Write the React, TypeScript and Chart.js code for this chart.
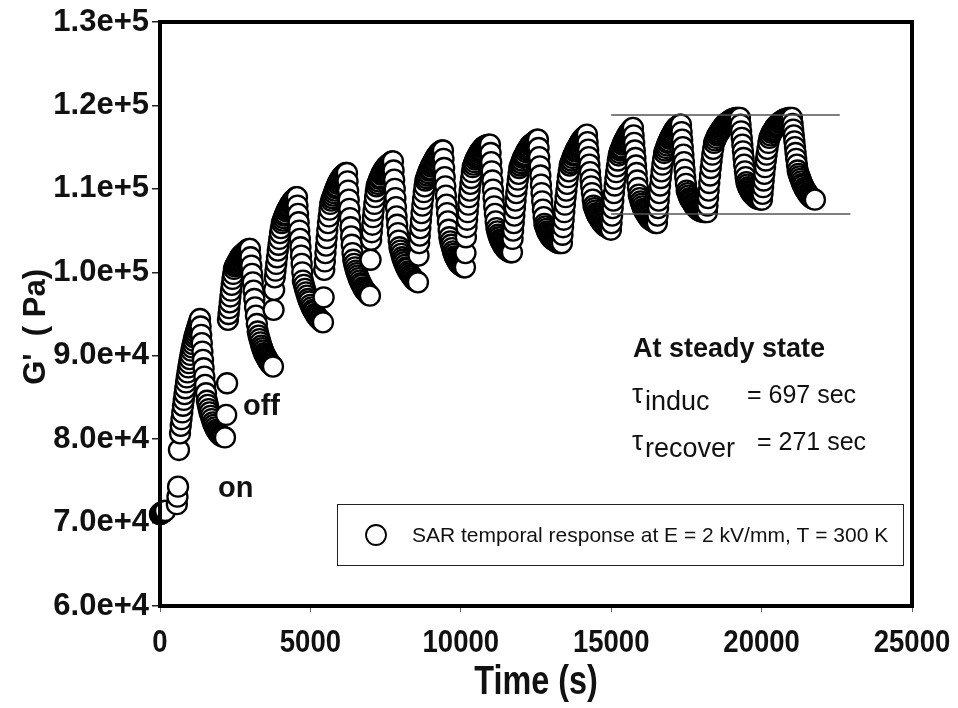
import React, { useEffect, useRef } from "react";
import { Chart, registerables } from "chart.js";

Chart.register(...registerables);

// ---- Data: [time (s), G' (kPa)] per field on/off cycle ----
const cycle01: [number, number][] = [
  [0, 71.0], [10, 71.0], [20, 71.1], [30, 71.1], [45, 71.1], [60, 71.2], [75, 71.2], [90, 71.2], [110, 71.3], [130, 71.3], [150, 71.4], [170, 71.4],
  [560, 72.2], [580, 73.1], [600, 74.3], [630, 78.7],
  [665, 80.7], [690, 81.6], [715, 82.4], [740, 83.2], [765, 84.0], [790, 84.7], [815, 85.4], [840, 86.1], [865, 86.8], [890, 87.4], [915, 88.0], [940, 88.6], [965, 89.1], [990, 89.6],
  [1015, 90.1], [1040, 90.6], [1065, 91.0], [1090, 91.4], [1115, 91.8], [1140, 92.2], [1165, 92.5], [1190, 92.8], [1215, 93.1], [1240, 93.4], [1265, 93.7], [1290, 93.9], [1310, 94.2], [1330, 94.4],
  [1350, 93.5], [1370, 92.5], [1390, 91.5], [1410, 90.5], [1430, 89.5], [1450, 88.5], [1475, 87.5], [1500, 86.5], [1530, 85.5], [1560, 84.6],
  [1590, 84.1], [1620, 83.6], [1650, 83.2], [1685, 82.8], [1720, 82.4], [1755, 82.0], [1790, 81.7], [1830, 81.4], [1870, 81.1], [1910, 80.9], [1950, 80.7], [1995, 80.5], [2040, 80.4], [2090, 80.3], [2160, 80.2],
];
const cycle02: [number, number][] = [
  [2200, 82.9], [2230, 86.7],
  [2260, 94.3], [2280, 95.0], [2300, 95.7], [2320, 96.4], [2340, 97.1], [2360, 97.8], [2385, 98.5], [2410, 99.2], [2435, 99.8], [2460, 100.4],
  [2490, 100.7], [2520, 100.9], [2550, 101.1], [2580, 101.3], [2610, 101.5], [2640, 101.7], [2670, 101.9], [2700, 102.0], [2730, 102.1], [2760, 102.2], [2790, 102.3], [2820, 102.4], [2850, 102.5], [2880, 102.6], [2910, 102.7], [2940, 102.7], [2965, 102.8], [2990, 102.8],
  [3010, 101.8], [3035, 100.8], [3060, 99.8], [3085, 98.8], [3110, 97.8], [3135, 96.8], [3160, 95.8], [3190, 94.8], [3220, 93.8], [3250, 92.9],
  [3280, 92.4], [3310, 92.0], [3340, 91.6], [3370, 91.2], [3400, 90.9], [3430, 90.6], [3460, 90.3], [3490, 90.1], [3520, 89.9], [3550, 89.7], [3580, 89.5], [3610, 89.3], [3640, 89.2], [3670, 89.0], [3700, 88.9], [3730, 88.8], [3756, 88.7],
];
const cycle03: [number, number][] = [
  [3775, 95.5], [3795, 97.9],
  [3815, 99.4], [3840, 100.2], [3865, 101.0], [3890, 101.8], [3915, 102.6], [3940, 103.3], [3965, 104.0], [3990, 104.7], [4020, 105.3], [4050, 105.9],
  [4080, 106.2], [4110, 106.5], [4140, 106.8], [4170, 107.0], [4200, 107.3], [4230, 107.5], [4260, 107.7], [4290, 107.9], [4320, 108.1], [4350, 108.3], [4380, 108.4], [4410, 108.6], [4440, 108.7], [4470, 108.8], [4500, 108.9], [4530, 109.0], [4554, 109.0],
  [4570, 108.0], [4590, 107.0], [4610, 106.0], [4630, 105.0], [4650, 104.0], [4670, 103.0], [4690, 102.0], [4710, 101.0], [4730, 100.0], [4750, 99.0],
  [4785, 98.5], [4820, 98.0], [4855, 97.6], [4890, 97.2], [4925, 96.8], [4960, 96.5], [5000, 96.1], [5040, 95.8], [5080, 95.5], [5120, 95.3], [5160, 95.0], [5200, 94.8], [5240, 94.6], [5285, 94.4], [5330, 94.3], [5375, 94.1], [5418, 94.0],
];
const cycle04: [number, number][] = [
  [5440, 97.0],
  [5460, 100.3], [5480, 101.3], [5500, 102.3], [5520, 103.2], [5540, 104.1], [5560, 105.0], [5585, 105.9], [5610, 106.7], [5635, 107.5], [5660, 108.2],
  [5690, 108.6], [5720, 108.9], [5750, 109.2], [5780, 109.5], [5810, 109.8], [5840, 110.1], [5870, 110.3], [5900, 110.6], [5930, 110.8], [5960, 111.0], [5990, 111.2], [6020, 111.3], [6050, 111.5], [6080, 111.6], [6110, 111.7], [6140, 111.8], [6180, 111.9], [6216, 111.9],
  [6235, 110.9], [6255, 109.8], [6275, 108.7], [6295, 107.6], [6315, 106.5], [6335, 105.4], [6355, 104.3], [6375, 103.3], [6400, 102.3], [6425, 101.5],
  [6455, 101.0], [6485, 100.6], [6515, 100.2], [6545, 99.9], [6575, 99.6], [6605, 99.3], [6640, 99.0], [6675, 98.7], [6710, 98.5], [6745, 98.2], [6780, 98.0], [6815, 97.8], [6850, 97.7], [6890, 97.5], [6935, 97.3], [6980, 97.2],
];
const cycle05: [number, number][] = [
  [7000, 101.5],
  [7020, 103.9], [7040, 104.8], [7060, 105.7], [7080, 106.6], [7100, 107.4], [7125, 108.2], [7150, 109.0], [7175, 109.7], [7200, 110.3],
  [7230, 110.6], [7260, 110.9], [7290, 111.2], [7320, 111.4], [7350, 111.7], [7380, 111.9], [7410, 112.1], [7440, 112.3], [7470, 112.4], [7500, 112.6], [7530, 112.7], [7560, 112.8], [7590, 112.9], [7620, 113.0], [7655, 113.1], [7690, 113.2], [7720, 113.3], [7745, 113.3],
  [7765, 112.2], [7785, 111.1], [7805, 110.0], [7825, 108.9], [7845, 107.8], [7865, 106.7], [7885, 105.7], [7910, 104.7], [7935, 103.8], [7960, 103.0],
  [7990, 102.6], [8020, 102.2], [8050, 101.8], [8080, 101.5], [8110, 101.2], [8145, 100.9], [8180, 100.6], [8215, 100.4], [8250, 100.1], [8290, 99.9], [8330, 99.7], [8370, 99.5], [8410, 99.3], [8450, 99.1], [8490, 99.0], [8535, 98.9], [8576, 98.8],
];
const cycle06: [number, number][] = [
  [8595, 102.0],
  [8615, 103.5], [8635, 104.4], [8655, 105.3], [8675, 106.2], [8695, 107.1], [8720, 108.0], [8745, 108.8], [8770, 109.6], [8795, 110.3], [8820, 111.0],
  [8850, 111.3], [8880, 111.6], [8910, 111.9], [8940, 112.2], [8970, 112.4], [9000, 112.7], [9030, 112.9], [9060, 113.1], [9090, 113.3], [9120, 113.5], [9150, 113.7], [9180, 113.9], [9210, 114.0], [9240, 114.2], [9270, 114.3], [9300, 114.4], [9335, 114.5], [9370, 114.6], [9407, 114.6],
  [9425, 113.6], [9445, 112.5], [9465, 111.4], [9485, 110.3], [9505, 109.2], [9525, 108.1], [9545, 107.1], [9570, 106.1], [9595, 105.1], [9620, 104.2],
  [9650, 103.7], [9680, 103.3], [9710, 102.9], [9740, 102.5], [9770, 102.2], [9800, 101.9], [9830, 101.7], [9860, 101.5], [9890, 101.3], [9920, 101.1], [9950, 101.0], [9985, 100.9], [10020, 100.8], [10060, 100.7], [10100, 100.6], [10138, 100.6],
];
const cycle07: [number, number][] = [
  [10155, 102.3], [10170, 104.2],
  [10190, 105.4], [10210, 106.3], [10230, 107.2], [10250, 108.1], [10270, 109.0], [10295, 109.8], [10320, 110.6], [10345, 111.3], [10370, 112.0], [10395, 112.6],
  [10425, 112.9], [10455, 113.2], [10485, 113.5], [10515, 113.7], [10545, 113.9], [10575, 114.1], [10605, 114.3], [10635, 114.5], [10665, 114.6], [10695, 114.7], [10725, 114.9], [10755, 115.0], [10785, 115.1], [10815, 115.1], [10845, 115.2], [10880, 115.2], [10925, 115.3], [10969, 115.3],
  [10990, 114.3], [11010, 113.2], [11030, 112.1], [11050, 111.0], [11070, 109.9], [11090, 108.9], [11110, 107.9], [11135, 107.0], [11160, 106.1], [11185, 105.3],
  [11215, 104.9], [11245, 104.5], [11275, 104.2], [11305, 103.9], [11335, 103.7], [11365, 103.5], [11395, 103.3], [11425, 103.1], [11455, 103.0], [11490, 102.8], [11525, 102.7], [11560, 102.6], [11600, 102.5], [11650, 102.4], [11700, 102.4],
];
const cycle08: [number, number][] = [
  [11720, 104.0],
  [11740, 105.0], [11760, 105.9], [11780, 106.8], [11800, 107.7], [11820, 108.6], [11845, 109.5], [11870, 110.3], [11895, 111.1], [11920, 111.8], [11945, 112.5],
  [11975, 112.8], [12005, 113.1], [12035, 113.4], [12065, 113.7], [12095, 113.9], [12125, 114.1], [12160, 114.4], [12195, 114.6], [12230, 114.8], [12265, 115.0], [12300, 115.2], [12335, 115.3], [12370, 115.4], [12405, 115.5], [12440, 115.6], [12475, 115.7], [12510, 115.8], [12540, 115.9], [12565, 115.9],
  [12585, 114.9], [12605, 113.8], [12625, 112.7], [12645, 111.6], [12665, 110.5], [12685, 109.5], [12705, 108.5], [12730, 107.5], [12755, 106.6], [12780, 105.8],
  [12810, 105.5], [12840, 105.2], [12870, 104.9], [12900, 104.7], [12935, 104.5], [12970, 104.3], [13005, 104.1], [13040, 104.0], [13080, 103.9], [13120, 103.8], [13160, 103.7], [13200, 103.6], [13250, 103.5], [13300, 103.5], [13362, 103.5],
];
const cycle09: [number, number][] = [
  [13380, 104.5], [13400, 105.4], [13420, 106.3], [13440, 107.2], [13460, 108.1], [13485, 109.0], [13510, 109.8], [13535, 110.6], [13560, 111.4], [13590, 112.1], [13620, 112.8],
  [13650, 113.1], [13680, 113.4], [13710, 113.7], [13740, 114.0], [13770, 114.2], [13800, 114.5], [13830, 114.7], [13860, 114.9], [13890, 115.1], [13920, 115.3], [13950, 115.5], [13980, 115.7], [14010, 115.8], [14040, 116.0], [14070, 116.1], [14100, 116.2], [14130, 116.3], [14160, 116.4], [14194, 116.5],
  [14215, 115.6], [14235, 114.7], [14255, 113.8], [14275, 112.9], [14295, 112.0], [14315, 111.1], [14335, 110.3], [14360, 109.5], [14385, 108.7], [14410, 108.0],
  [14440, 107.7], [14470, 107.4], [14500, 107.1], [14530, 106.9], [14560, 106.7], [14595, 106.5], [14630, 106.3], [14665, 106.1], [14700, 105.9], [14740, 105.8], [14780, 105.6], [14820, 105.5], [14865, 105.4], [14910, 105.3], [14950, 105.2], [14991, 105.1],
];
const cycle10: [number, number][] = [
  [15010, 105.9], [15030, 106.8], [15050, 107.7], [15070, 108.6], [15090, 109.5], [15115, 110.4], [15140, 111.2], [15165, 112.0], [15190, 112.7], [15220, 113.4], [15250, 114.0],
  [15275, 114.3], [15300, 114.6], [15325, 114.8], [15350, 115.0], [15375, 115.3], [15400, 115.5], [15425, 115.7], [15450, 115.9], [15475, 116.0], [15500, 116.2], [15525, 116.4], [15550, 116.5], [15575, 116.7], [15600, 116.8], [15630, 116.9], [15660, 117.1], [15690, 117.2], [15723, 117.3],
  [15745, 116.4], [15765, 115.5], [15785, 114.6], [15805, 113.7], [15825, 112.8], [15845, 111.9], [15865, 111.0], [15890, 110.1], [15915, 109.3],
  [15945, 108.9], [15975, 108.5], [16005, 108.2], [16035, 107.9], [16065, 107.6], [16095, 107.4], [16125, 107.2], [16160, 107.0], [16195, 106.8], [16230, 106.6], [16270, 106.4], [16310, 106.3], [16350, 106.2], [16395, 106.1], [16440, 106.0], [16480, 105.9], [16520, 105.9],
];
const cycle11: [number, number][] = [
  [16540, 106.8], [16560, 107.7], [16580, 108.6], [16600, 109.5], [16625, 110.4], [16650, 111.3], [16675, 112.1], [16700, 112.9], [16730, 113.6], [16760, 114.3],
  [16790, 114.6], [16820, 114.9], [16850, 115.2], [16880, 115.5], [16910, 115.7], [16940, 116.0], [16970, 116.2], [17000, 116.4], [17030, 116.6], [17060, 116.8], [17090, 117.0], [17120, 117.1], [17150, 117.3], [17180, 117.4], [17215, 117.5], [17250, 117.6], [17285, 117.7], [17318, 117.7],
  [17340, 116.8], [17360, 115.9], [17380, 115.0], [17400, 114.1], [17420, 113.2], [17440, 112.3], [17460, 111.4], [17485, 110.6], [17510, 109.8],
  [17540, 109.5], [17570, 109.2], [17600, 108.9], [17635, 108.7], [17670, 108.5], [17705, 108.3], [17740, 108.1], [17775, 107.9], [17810, 107.8], [17850, 107.6], [17890, 107.5], [17935, 107.4], [17980, 107.3], [18030, 107.3], [18080, 107.2], [18130, 107.2], [18182, 107.2],
];
const cycle12: [number, number][] = [
  [18200, 108.0], [18220, 108.9], [18240, 109.8], [18260, 110.7], [18285, 111.6], [18310, 112.5], [18335, 113.3], [18360, 114.1], [18390, 114.8], [18420, 115.5],
  [18455, 115.8], [18490, 116.1], [18525, 116.4], [18560, 116.6], [18595, 116.8], [18630, 117.0], [18665, 117.2], [18700, 117.4], [18735, 117.5], [18770, 117.7], [18805, 117.8], [18840, 117.9], [18880, 118.0], [18920, 118.1], [18960, 118.2], [19000, 118.3], [19045, 118.4], [19090, 118.4], [19135, 118.5], [19180, 118.5], [19230, 118.5], [19279, 118.5],
  [19300, 117.7], [19320, 116.9], [19340, 116.1], [19360, 115.3], [19380, 114.5], [19400, 113.7], [19420, 112.9], [19445, 112.1], [19470, 111.4], [19495, 110.8],
  [19525, 110.5], [19555, 110.2], [19585, 110.0], [19615, 109.8], [19645, 109.6], [19680, 109.4], [19715, 109.3], [19750, 109.2], [19790, 109.0], [19830, 108.9], [19875, 108.8], [19920, 108.8], [19965, 108.7], [20010, 108.7],
];
const cycle13: [number, number][] = [
  [20030, 109.4], [20050, 110.2], [20070, 111.0], [20090, 111.8], [20115, 112.6], [20140, 113.4], [20165, 114.1], [20195, 114.8], [20225, 115.5], [20260, 116.1],
  [20295, 116.4], [20330, 116.7], [20365, 116.9], [20400, 117.1], [20435, 117.3], [20470, 117.5], [20505, 117.6], [20540, 117.7], [20580, 117.9], [20620, 118.0], [20660, 118.1], [20700, 118.2], [20745, 118.3], [20790, 118.4], [20840, 118.4], [20890, 118.5], [20950, 118.5], [21008, 118.5],
  [21030, 117.8], [21050, 117.1], [21070, 116.4], [21090, 115.7], [21110, 115.0], [21130, 114.3], [21150, 113.6], [21175, 112.9], [21200, 112.2],
  [21230, 111.8], [21260, 111.5], [21290, 111.2], [21320, 110.9], [21350, 110.6], [21380, 110.4], [21415, 110.1], [21450, 109.9], [21485, 109.7], [21520, 109.5], [21555, 109.3], [21590, 109.2], [21630, 109.0], [21670, 108.9], [21720, 108.8], [21772, 108.7],
];

// steady-state guide lines [time (s), G' (kPa)]
const steadyUpper: [number, number][] = [[15000, 118.85], [22600, 118.85]];
const steadyLower: [number, number][] = [[15000, 107.0], [22950, 107.0]];

const xTickValues = [0, 5000, 10000, 15000, 20000, 25000];
const yTickValues = [60000, 70000, 80000, 90000, 100000, 110000, 120000, 130000];
const legendLabel = "SAR temporal response at E = 2 kV/mm, T = 300 K";
const xTitle = "Time (s)";
const yTitle = "G'  ( Pa)   ";

const cycles = [cycle01, cycle02, cycle03, cycle04, cycle05, cycle06, cycle07, cycle08, cycle09, cycle10, cycle11, cycle12, cycle13];
const toPts = (arr: [number, number][]) => arr.map(([t, g]) => ({ x: t, y: g * 1000 }));

const SANS = "'Liberation Sans', Arial, Helvetica, sans-serif";

const decorPlugin = {
  id: "decor",
  afterDatasetsDraw(chart: any) {
    const { ctx, chartArea: a } = chart;
    ctx.save();
    // plot frame
    ctx.strokeStyle = "#000";
    ctx.lineWidth = 4;
    ctx.strokeRect(a.left, a.top, a.right - a.left, a.bottom - a.top);

    // x tick labels and x title (condensed bold, as in the original)
    const xs = chart.scales.x;
    ctx.fillStyle = "#111";
    ctx.textAlign = "center";
    ctx.textBaseline = "alphabetic";
    ctx.font = `bold 32px ${SANS}`;
    for (const v of xTickValues) {
      const px = xs.getPixelForValue(v);
      ctx.save();
      ctx.translate(px, 652);
      ctx.scale(0.86, 1);
      ctx.fillText(String(v), 0, 0);
      ctx.restore();
    }
    ctx.save();
    ctx.font = `bold 40px ${SANS}`;
    ctx.translate((a.left + a.right) / 2, 694);
    ctx.scale(0.81, 1);
    ctx.fillText(xTitle, 0, 0);
    ctx.restore();

    // legend box
    ctx.lineWidth = 1;
    ctx.strokeStyle = "#222";
    ctx.strokeRect(337.5, 504.5, 566, 61);
    ctx.beginPath();
    ctx.arc(376, 535, 10, 0, Math.PI * 2);
    ctx.fillStyle = "#fff";
    ctx.fill();
    ctx.lineWidth = 1.8;
    ctx.strokeStyle = "#000";
    ctx.stroke();
    ctx.fillStyle = "#111";
    ctx.font = `21px ${SANS}`;
    ctx.textBaseline = "middle";
    ctx.textAlign = "left";
    ctx.fillText(legendLabel, 412, 536);

    // annotations
    ctx.textBaseline = "alphabetic";
    ctx.font = `bold 29px ${SANS}`;
    ctx.fillText("off", 243, 415);
    ctx.fillText("on", 218, 497);

    ctx.font = `bold 27px ${SANS}`;
    ctx.fillText("At steady state", 633, 357);

    ctx.font = `28px ${SANS}`;
    ctx.fillText("\u03C4", 632, 403);
    ctx.font = `27px ${SANS}`;
    ctx.fillText("induc", 645, 410);
    ctx.font = `25px ${SANS}`;
    ctx.fillText("= 697 sec", 747, 403);

    ctx.font = `28px ${SANS}`;
    ctx.fillText("\u03C4", 632, 450);
    ctx.font = `27px ${SANS}`;
    ctx.fillText("recover", 645, 457);
    ctx.font = `25px ${SANS}`;
    ctx.fillText("= 271 sec", 757, 450);
    ctx.restore();
  },
};

export default function App() {
  const canvasRef = useRef<HTMLCanvasElement | null>(null);

  useEffect(() => {
    const canvas = canvasRef.current;
    if (!canvas) return;
    const chart = new Chart(canvas, {
      type: "scatter",
      data: {
        datasets: [
          {
            type: "line",
            label: "steady upper",
            data: toPts(steadyUpper),
            borderColor: "#555",
            borderWidth: 1.5,
            pointRadius: 0,
            showLine: true,
            order: 0,
          } as any,
          {
            type: "line",
            label: "steady lower",
            data: toPts(steadyLower),
            borderColor: "#555",
            borderWidth: 1.5,
            pointRadius: 0,
            showLine: true,
            order: 0,
          } as any,
          {
            label: legendLabel,
            data: cycles.flatMap(toPts),
            pointStyle: "circle",
            pointRadius: 10,
            pointBorderWidth: 2.3,
            pointBackgroundColor: "#fff",
            pointBorderColor: "#000",
            showLine: false,
            clip: false,
            order: 1,
          } as any,
        ],
      },
      options: {
        animation: false,
        responsive: false,
        maintainAspectRatio: false,
        events: [],
        layout: { autoPadding: false, padding: { top: 22, right: 46, left: 0, bottom: 0 } },
        plugins: {
          legend: { display: false },
          tooltip: { enabled: false },
          title: { display: false },
        },
        scales: {
          x: {
            type: "linear",
            min: 0,
            max: 25000,
            afterBuildTicks: (s: any) => {
              s.ticks = xTickValues.map((v) => ({ value: v }));
            },
            afterFit: (s: any) => {
              s.height = 102;
              s.paddingLeft = 0;
              s.paddingRight = 0;
            },
            ticks: { display: false, autoSkip: false, maxRotation: 0 },
            grid: { drawOnChartArea: false, drawTicks: true, tickLength: 6, color: "#666", lineWidth: 1 },
            border: { display: false },
            title: { display: false, text: xTitle },
          },
          y: {
            type: "linear",
            min: 60000,
            max: 130000,
            afterBuildTicks: (s: any) => {
              s.ticks = yTickValues.map((v) => ({ value: v }));
            },
            afterFit: (s: any) => {
              s.width = 160;
            },
            ticks: {
              padding: 3,
              color: "#111",
              font: { family: SANS, size: 31, weight: "bold" },
              callback: (v: any) => Number(v).toExponential(1),
            },
            grid: { drawOnChartArea: false, drawTicks: true, tickLength: 8, color: "#222", lineWidth: 1.5 },
            border: { display: false },
            title: {
              display: true,
              text: yTitle,
              color: "#111",
              font: { family: SANS, size: 31, weight: "bold" },
              padding: { top: 18, bottom: 0 },
            },
          },
        },
      },
      plugins: [decorPlugin],
    });
    return () => chart.destroy();
  }, []);

  return (
    <div style={{ position: "fixed", left: 0, top: 0, width: 958, height: 708, background: "#fff" }}>
      <canvas ref={canvasRef} width={958} height={708} style={{ display: "block", width: 958, height: 708 }} />
    </div>
  );
}
